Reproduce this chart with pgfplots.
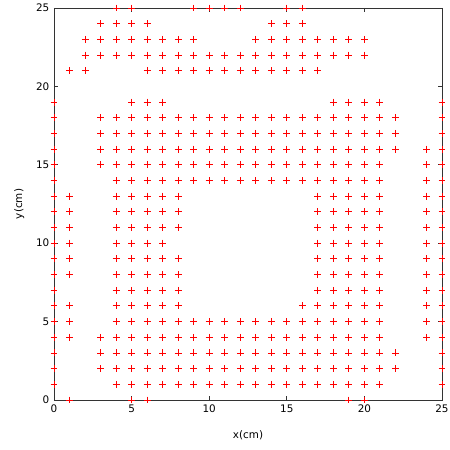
\documentclass[border=0pt]{standalone}
\usepackage{pgfplots}
\pgfplotsset{compat=1.18}
\usepackage{fontspec}
\setmainfont{DejaVu Sans}
\begin{document}
\begin{tikzpicture}
\begin{axis}[
  scale only axis, width=291pt, height=294pt,
  xmin=0, xmax=25, ymin=0, ymax=25,
  xtick={0,5,...,25}, ytick={0,5,...,25},
  tick align=inside, tick pos=both,
  major tick length=3pt,
  axis line style={black!80, line width=0.6pt},
  tick style={black!80, line width=0.5pt},
  ticklabel style={font=\fontsize{7.8}{9}\selectfont},
  /pgf/number format/assume math mode=true,
  xlabel={x(cm)}, ylabel={y(cm)},
  label style={font=\fontsize{7.8}{9}\selectfont},
  xlabel style={yshift=-7pt},
  ylabel style={yshift=2pt},
  clip=false,
]
\addplot[only marks, mark=+, mark size=2.6pt, color=red, mark options={line width=0.65pt, color=red}] coordinates {
(4,25)(5,25)(9,25)(10,25)(11,25)(12,25)(15,25)(16,25)
(3,24)(4,24)(5,24)(6,24)(14,24)(15,24)(16,24)
(2,23)(3,23)(4,23)(5,23)(6,23)(7,23)(8,23)(9,23)(13,23)(14,23)(15,23)(16,23)(17,23)(18,23)(19,23)(20,23)
(2,22)(3,22)(4,22)(5,22)(6,22)(7,22)(8,22)(9,22)(10,22)(11,22)(12,22)(13,22)(14,22)(15,22)(16,22)(17,22)(18,22)(19,22)(20,22)
(1,21)(2,21)(6,21)(7,21)(8,21)(9,21)(10,21)(11,21)(12,21)(13,21)(14,21)(15,21)(16,21)(17,21)
(0,19)(5,19)(6,19)(7,19)(18,19)(19,19)(20,19)(21,19)(25,19)
(0,18)(3,18)(4,18)(5,18)(6,18)(7,18)(8,18)(9,18)(10,18)(11,18)(12,18)(13,18)(14,18)(15,18)(16,18)(17,18)(18,18)(19,18)(20,18)(21,18)(22,18)(25,18)
(0,17)(3,17)(4,17)(5,17)(6,17)(7,17)(8,17)(9,17)(10,17)(11,17)(12,17)(13,17)(14,17)(15,17)(16,17)(17,17)(18,17)(19,17)(20,17)(21,17)(22,17)(25,17)
(0,16)(3,16)(4,16)(5,16)(6,16)(7,16)(8,16)(9,16)(10,16)(11,16)(12,16)(13,16)(14,16)(15,16)(16,16)(17,16)(18,16)(19,16)(20,16)(21,16)(22,16)(24,16)(25,16)
(0,15)(3,15)(4,15)(5,15)(6,15)(7,15)(8,15)(9,15)(10,15)(11,15)(12,15)(13,15)(14,15)(15,15)(16,15)(17,15)(18,15)(19,15)(20,15)(21,15)(24,15)(25,15)
(0,14)(4,14)(5,14)(6,14)(7,14)(8,14)(9,14)(10,14)(11,14)(12,14)(13,14)(14,14)(15,14)(16,14)(17,14)(18,14)(19,14)(20,14)(21,14)(24,14)(25,14)
(0,13)(1,13)(4,13)(5,13)(6,13)(7,13)(8,13)(17,13)(18,13)(19,13)(20,13)(21,13)(24,13)(25,13)
(0,12)(1,12)(4,12)(5,12)(6,12)(7,12)(8,12)(17,12)(18,12)(19,12)(20,12)(21,12)(24,12)(25,12)
(0,11)(1,11)(4,11)(5,11)(6,11)(7,11)(8,11)(17,11)(18,11)(19,11)(20,11)(21,11)(24,11)(25,11)
(0,10)(1,10)(4,10)(5,10)(6,10)(7,10)(17,10)(18,10)(19,10)(20,10)(21,10)(24,10)(25,10)
(0,9)(1,9)(4,9)(5,9)(6,9)(7,9)(8,9)(17,9)(18,9)(19,9)(20,9)(21,9)(24,9)(25,9)
(0,8)(1,8)(4,8)(5,8)(6,8)(7,8)(8,8)(17,8)(18,8)(19,8)(20,8)(21,8)(24,8)(25,8)
(0,7)(4,7)(5,7)(6,7)(7,7)(8,7)(17,7)(18,7)(19,7)(20,7)(21,7)(24,7)(25,7)
(0,6)(1,6)(4,6)(5,6)(6,6)(7,6)(8,6)(16,6)(17,6)(18,6)(19,6)(20,6)(21,6)(24,6)(25,6)
(0,5)(1,5)(4,5)(5,5)(6,5)(7,5)(8,5)(9,5)(10,5)(11,5)(12,5)(13,5)(14,5)(15,5)(16,5)(17,5)(18,5)(19,5)(20,5)(21,5)(24,5)(25,5)
(0,4)(1,4)(3,4)(4,4)(5,4)(6,4)(7,4)(8,4)(9,4)(10,4)(11,4)(12,4)(13,4)(14,4)(15,4)(16,4)(17,4)(18,4)(19,4)(20,4)(21,4)(24,4)(25,4)
(0,3)(3,3)(4,3)(5,3)(6,3)(7,3)(8,3)(9,3)(10,3)(11,3)(12,3)(13,3)(14,3)(15,3)(16,3)(17,3)(18,3)(19,3)(20,3)(21,3)(22,3)(25,3)
(0,2)(3,2)(4,2)(5,2)(6,2)(7,2)(8,2)(9,2)(10,2)(11,2)(12,2)(13,2)(14,2)(15,2)(16,2)(17,2)(18,2)(19,2)(20,2)(21,2)(22,2)(25,2)
(0,1)(4,1)(5,1)(6,1)(7,1)(8,1)(9,1)(10,1)(11,1)(12,1)(13,1)(14,1)(15,1)(16,1)(17,1)(18,1)(19,1)(20,1)(21,1)(25,1)
(1,0)(5,0)(6,0)(19,0)(20,0)
};
\end{axis}
\pgfresetboundingbox
\path (current axis.south west) ++(-40.5pt,-37.5pt) coordinate (bbsw);
\path (current axis.north east) ++(6pt,6pt) coordinate (bbne);
\useasboundingbox (bbsw) rectangle (bbne);
\end{tikzpicture}
\end{document}
